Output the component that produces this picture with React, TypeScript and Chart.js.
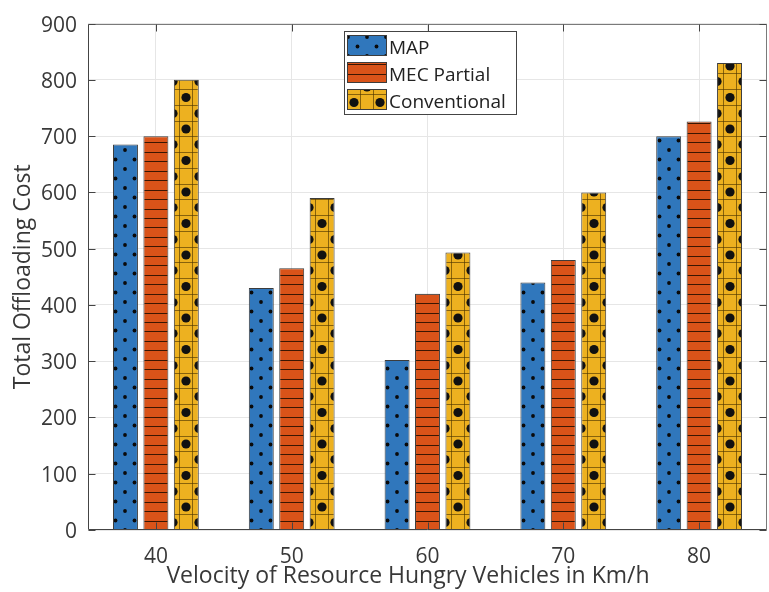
import React, { useEffect, useRef } from 'react';
import { Chart, registerables } from 'chart.js';

Chart.register(...registerables);

// ---- data ----
const categories = ['40', '50', '60', '70', '80'];
const seriesLabels = ['MAP', 'MEC Partial', 'Conventional'];
const mapValues = [685, 430, 302, 440, 700];
const mecPartialValues = [700, 465, 420, 480, 726];
const conventionalValues = [800, 590, 493, 600, 830];
const yMin = 0;
const yMax = 900;
const yStep = 100;
const xTitle = 'Velocity of Resource Hungry Vehicles in Km/h';
const yTitle = 'Total Offloading Cost';

// ---- styles ----
const FONT = '"Open Sans", "DejaVu Sans", sans-serif';
const TEXT = '#383838';
const baseColors = ['#3077BC', '#D95319', '#EDB120'];
const CAT_PCT = 0.672;
const BAR_PCT = 0.82;
const W = 769;
const H = 592;

function makeTile(kind: number): HTMLCanvasElement {
  const c = document.createElement('canvas');
  const g = c.getContext('2d') as CanvasRenderingContext2D;
  if (kind === 0) {
    c.width = 19;
    c.height = 19;
    g.fillStyle = baseColors[0];
    g.fillRect(0, 0, 19, 19);
    g.fillStyle = '#0a0a0a';
    const pts = [
      [0, 0],
      [19, 0],
      [0, 19],
      [19, 19],
      [9.5, 9.5],
    ];
    for (const [x, y] of pts) {
      g.beginPath();
      g.arc(x, y, 1.9, 0, Math.PI * 2);
      g.fill();
    }
  } else if (kind === 1) {
    c.width = 4;
    c.height = 104;
    g.fillStyle = baseColors[1];
    g.fillRect(0, 0, 4, 104);
    g.fillStyle = 'rgba(40,15,0,0.9)';
    for (let i = 0; i < 11; i++) g.fillRect(0, Math.round((i * 104) / 11), 4, 1);
  } else {
    c.width = 26;
    c.height = 63;
    g.fillStyle = baseColors[2];
    g.fillRect(0, 0, 26, 63);
    g.fillStyle = 'rgba(80,55,0,0.65)';
    g.fillRect(0, 0, 1, 63);
    g.fillRect(13, 0, 1, 63);
    const rows = [0, 16, 32, 47, 63];
    for (let r = 0; r < 4; r++) g.fillRect(0, rows[r], 26, 1);
    g.fillStyle = '#111';
    for (let r = 0; r < 4; r++) {
      const cy = (rows[r] + rows[r + 1]) / 2 + 0.5;
      const xs = r % 2 === 0 ? [7] : [-6, 20];
      for (const x of xs) {
        g.beginPath();
        g.arc(x, cy, 4.6, 0, Math.PI * 2);
        g.fill();
      }
    }
  }
  return c;
}

const tileOffsets = [0, 0, 7];

export default function App() {
  const ref = useRef<HTMLCanvasElement | null>(null);

  useEffect(() => {
    const canvas = ref.current;
    if (!canvas) return;
    const tiles = [makeTile(0), makeTile(1), makeTile(2)];

    const barFill = (di: number) => (ctx: any) => {
      const chart = ctx.chart;
      if (ctx.type !== 'data' || !chart.chartArea) return baseColors[di];
      const xs = chart.scales.x;
      const ys = chart.scales.y;
      if (!xs || !ys || !xs.width) return baseColors[di];
      const catW = xs.width / categories.length;
      const slot = (catW * CAT_PCT) / seriesLabels.length;
      const cx = xs.getPixelForValue(ctx.dataIndex) + (di - 1) * slot;
      const p = chart.ctx.createPattern(tiles[di], 'repeat');
      if (!p) return baseColors[di];
      p.setTransform(new DOMMatrix([1, 0, 0, 1, Math.round(cx) - tileOffsets[di], Math.round(ys.getPixelForValue(0))]));
      return p;
    };

    const frame = {
      id: 'frame',
      afterDatasetsDraw(chart: any) {
        const g = chart.ctx as CanvasRenderingContext2D;
        const { left, right, top, bottom } = chart.chartArea;
        const xs = chart.scales.x;
        const ys = chart.scales.y;
        const L = Math.round(left) + 0.5;
        const R = Math.round(right) - 0.5;
        const T = Math.round(top) + 0.5;
        const B = Math.round(bottom) - 0.5;
        g.save();
        g.lineWidth = 1;
        g.strokeStyle = '#7a7a7a';
        g.beginPath();
        g.moveTo(L, T);
        g.lineTo(R, T);
        g.lineTo(R, B);
        g.stroke();
        g.strokeStyle = '#444';
        g.beginPath();
        g.moveTo(L, T);
        g.lineTo(L, B);
        g.lineTo(R, B);
        g.stroke();
        const tl = 7;
        g.beginPath();
        for (let i = 0; i < categories.length; i++) {
          const x = Math.round(xs.getPixelForValue(i)) + 0.5;
          g.moveTo(x, B);
          g.lineTo(x, B - tl);
          g.moveTo(x, T);
          g.lineTo(x, T + tl);
        }
        for (let v = yMin; v <= yMax; v += yStep) {
          const y = Math.round(ys.getPixelForValue(v)) + 0.5;
          g.moveTo(L, y);
          g.lineTo(L + tl, y);
          g.moveTo(R, y);
          g.lineTo(R - tl, y);
        }
        g.stroke();
        // x-axis title
        g.fillStyle = TEXT;
        g.font = `23px ${FONT}`;
        g.textAlign = 'center';
        g.textBaseline = 'middle';
        g.fillText(xTitle, 408, 576);
        g.restore();
      },
    };

    const legend = {
      id: 'boxLegend',
      afterDraw(chart: any) {
        const g = chart.ctx as CanvasRenderingContext2D;
        const x0 = 344;
        const y0 = 31;
        const w = 172;
        const h = 83;
        g.save();
        g.fillStyle = '#fff';
        g.fillRect(x0, y0, w, h);
        g.strokeStyle = '#444';
        g.lineWidth = 1;
        g.strokeRect(x0 + 0.5, y0 + 0.5, w, h);
        chart.data.datasets.forEach((ds: any, i: number) => {
          const py = 35 + i * 27;
          const px = 347;
          const p = g.createPattern(tiles[i], 'repeat');
          if (p) {
            p.setTransform(new DOMMatrix([1, 0, 0, 1, px + 20 - tileOffsets[i], py + 21]));
            g.fillStyle = p;
          } else g.fillStyle = baseColors[i];
          g.fillRect(px, py, 40, 21);
          g.strokeStyle = '#3c3c3c';
          g.strokeRect(px + 0.5, py + 0.5, 39, 20);
          g.fillStyle = '#222';
          g.font = `19px ${FONT}`;
          g.textBaseline = 'alphabetic';
          g.textAlign = 'left';
          g.fillText(ds.label, px + 42, py + 19);
        });
        g.restore();
      },
    };

    const values = [mapValues, mecPartialValues, conventionalValues];
    const chart = new Chart(canvas, {
      type: 'bar',
      data: {
        labels: categories,
        datasets: seriesLabels.map((label, i) => ({
          label,
          data: values[i],
          backgroundColor: barFill(i),
          borderColor: '#3c3c3c',
          borderWidth: 1,
          categoryPercentage: CAT_PCT,
          barPercentage: BAR_PCT,
        })),
      },
      options: {
        responsive: false,
        animation: false,
        layout: { padding: { top: 16, right: 2, left: 0, bottom: 0 } },
        plugins: {
          legend: { display: false },
          tooltip: { enabled: false },
        },
        scales: {
          x: {
            offset: true,
            afterFit: (s: any) => {
              s.height = 62;
            },
            grid: { offset: false, color: '#e6e6e6', drawTicks: false },
            border: { display: false },
            ticks: { color: TEXT, padding: 14, font: { family: FONT, size: 21 } },
            title: { display: false },
          },
          y: {
            min: yMin,
            max: yMax,
            afterFit: (s: any) => {
              s.width = 88;
            },
            grid: { color: '#e6e6e6', drawTicks: false },
            border: { display: false },
            ticks: {
              stepSize: yStep,
              color: TEXT,
              padding: 11,
              labelOffset: 2,
              font: { family: FONT, size: 21 },
            },
            title: {
              display: true,
              text: yTitle,
              color: TEXT,
              font: { family: FONT, size: 23 },
              padding: { top: 10, bottom: 0 },
            },
          },
        },
      },
      plugins: [frame, legend],
    });
    return () => chart.destroy();
  }, []);

  return (
    <div style={{ position: 'absolute', left: 0, top: 0, width: W, height: H, background: '#fff' }}>
      <canvas ref={ref} width={W} height={H} style={{ display: 'block' }} />
    </div>
  );
}
